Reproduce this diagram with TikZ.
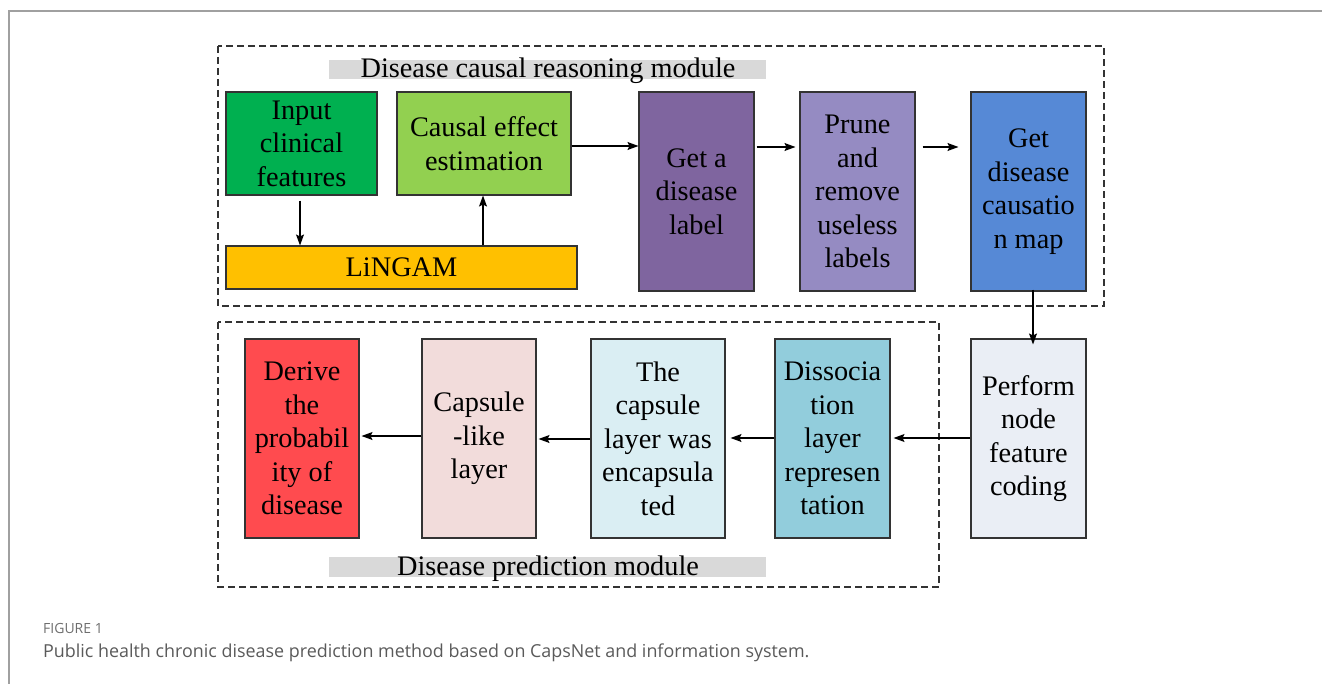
\documentclass[tikz,border=0pt]{standalone}
\usepackage{fontspec}
\setmainfont{Liberation Serif}
\newfontfamily\capfont{Open Sans}
\usetikzlibrary{arrows.meta}
\definecolor{cInput}{HTML}{00B050}
\definecolor{cCausal}{HTML}{92D050}
\definecolor{cLing}{HTML}{FFC000}
\definecolor{cGet}{HTML}{7F659F}
\definecolor{cPrune}{HTML}{958BC2}
\definecolor{cMap}{HTML}{5689D6}
\definecolor{cPerf}{HTML}{EAEEF5}
\definecolor{cDiss}{HTML}{92CDDC}
\definecolor{cEnc}{HTML}{DAEEF3}
\definecolor{cCap}{HTML}{F2DCDB}
\definecolor{cDer}{HTML}{FF4B4F}
\definecolor{cBar}{HTML}{D9D9D9}
\definecolor{cFrame}{HTML}{A0A0A0}
\definecolor{cCapText}{HTML}{5A5A5A}
\definecolor{cFigText}{HTML}{6E6E6E}
\begin{document}
\begin{tikzpicture}[x=1pt,y=-1pt,
  box/.style={draw=black!80,line width=1.1pt,inner sep=0pt,align=center,
    font=\fontsize{28.3}{33.5}\selectfont},
  modbox/.style={draw=black!80,dash pattern=on 7pt off 4pt,line width=1.2pt},
  arr/.style={-{Stealth[length=11pt,width=8pt,inset=2pt]},line width=1.1pt},
  lbl/.style={font=\fontsize{28.3}{33}\selectfont,anchor=base,inner sep=0pt}]
\useasboundingbox (0,0) rectangle (1322,684);
% outer frame
\draw[cFrame,line width=1.5pt] (9,684) -- (9,11) -- (1322,11);
% module frames
\draw[modbox] (218,46) rectangle (1104,306);
\draw[modbox] (218,322) rectangle (939,587);
% label bars
\fill[cBar] (329,60) rectangle (766,79.5);
\node[lbl] (t1) at (548,78) {Disease causal reasoning module};
\fill[cBar] (329,557) rectangle (766,576.5);
\node[lbl] (t2) at (548,575) {Disease prediction module};
% top row
\node[box,fill=cInput,minimum width=151pt,minimum height=103pt] (inp) at (301.5,143.5) {Input\\clinical\\features};
\node[box,fill=cCausal,minimum width=174pt,minimum height=103pt] (cau) at (484,143.5) {Causal effect\\estimation};
\node[box,fill=cLing,minimum width=351pt,minimum height=43pt] (lin) at (401.5,267.5) {LiNGAM};
\node[box,fill=cGet,minimum width=115pt,minimum height=199pt] (get) at (696.5,191.5) {Get a\\disease\\label};
\node[box,fill=cPrune,minimum width=115pt,minimum height=199pt] (pru) at (857.5,191.5) {Prune\\and\\remove\\useless\\labels};
\node[box,fill=cMap,minimum width=115pt,minimum height=199pt] (map) at (1028.5,191.5) {Get\\disease\\causatio\\n map};
% bottom row
\node[box,fill=cPerf,minimum width=115pt,minimum height=199pt] (per) at (1028.5,438.5) {Perform\\node\\feature\\coding};
\node[box,fill=cDiss,minimum width=115pt,minimum height=199pt] (dis) at (832.5,438.5) {Dissocia\\tion\\layer\\represen\\tation};
\node[box,fill=cEnc,minimum width=134pt,minimum height=199pt] (enc) at (658,438.5) {The\\capsule\\layer was\\encapsula\\ted};
\node[box,fill=cCap,minimum width=114pt,minimum height=199pt] (cap) at (479,438.5) {Capsule\\-like\\layer};
\node[box,fill=cDer,minimum width=114pt,minimum height=199pt] (der) at (302,438.5) {Derive\\the\\probabil\\ity of\\disease};
% arrows
\draw[arr] ([xshift=-1.5pt,yshift=-5pt]inp.south) -- ([xshift=-1.5pt]inp.south |- lin.north);
\draw[arr] (lin.north -| 483,0) -- (cau.south -| 483,0);
\draw[arr] (cau.east |- 0,146) -- (get.west |- 0,146);
\draw[arr] ([xshift=2pt]get.east |- 0,147) -- ([xshift=-4pt]pru.west |- 0,147);
\draw[arr] ([xshift=7pt]pru.east |- 0,147) -- ([xshift=-12pt]map.west |- 0,147);
\draw[arr] ([yshift=2pt]map.south -| 1033,0) -- ([yshift=-6pt]per.north -| 1033,0);
\draw[arr] (per.west |- 0,438) -- ([xshift=3pt]dis.east |- 0,438);
\draw[arr] (dis.west |- 0,438) -- ([xshift=5pt]enc.east |- 0,438);
\draw[arr] (enc.west |- 0,439) -- ([xshift=2pt]cap.east |- 0,439);
\draw[arr] (cap.west |- 0,436) -- ([xshift=2pt]der.east |- 0,436);
% caption
\node[anchor=base west,inner sep=0pt,text=cFigText,font=\capfont\fontsize{14}{16}\selectfont] (fig) at (43,633) {FIGURE 1};
\node[anchor=base west,inner sep=0pt,text=cCapText,font=\capfont\fontsize{17.9}{21}\selectfont] (cap1) at (43,657) {Public health chronic disease prediction method based on CapsNet and information system.};
\end{tikzpicture}
\end{document}
